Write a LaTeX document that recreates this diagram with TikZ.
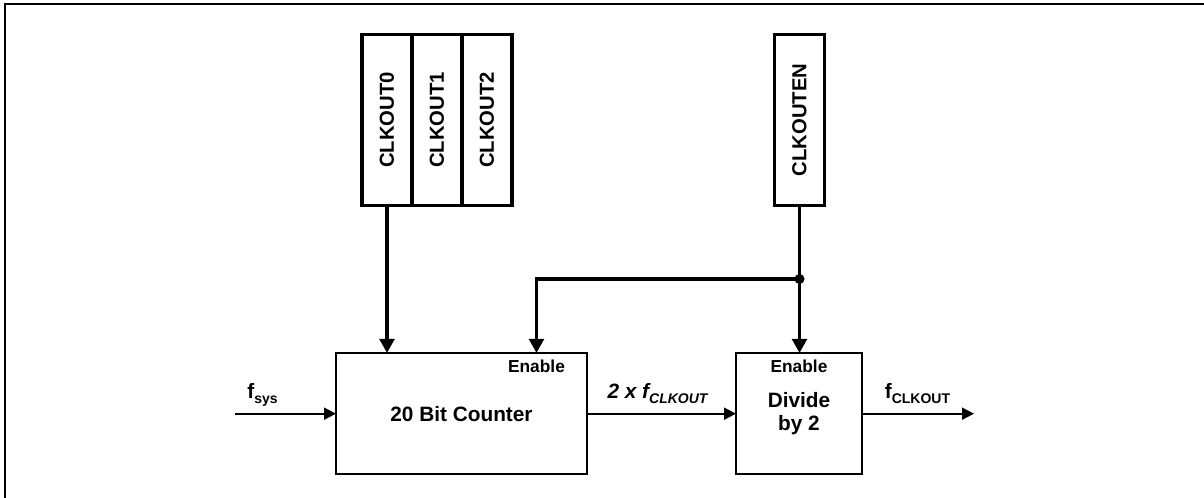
\documentclass[tikz,border=0pt]{standalone}
\usepackage{fontspec}
\setmainfont{Liberation Sans}
\usetikzlibrary{arrows.meta,positioning,calc}

\begin{document}
\begin{tikzpicture}[x=0.75pt,y=-0.75pt,
  blk/.style={draw,line width=1.4pt,inner sep=0pt,outer sep=0pt,align=center,font=\fontsize{15.6}{17.5}\selectfont\bfseries},
  regbox/.style={draw,line width=2.3pt,inner sep=0pt,outer sep=0pt,minimum width=37.5pt,minimum height=128.25pt,font=\fontsize{15.2}{15}\selectfont\bfseries},
  ctl/.style={line width=2.4pt,-{Triangle[length=10.5pt,width=11pt]}},
  sig/.style={line width=1.3pt,-{Triangle[length=9pt,width=9pt]}},
  lbl/.style={anchor=base,inner sep=0pt,font=\fontsize{15.6}{17.5}\selectfont\bfseries},
  enlbl/.style={anchor=base,inner sep=0pt,font=\fontsize{13}{15}\selectfont\bfseries}]
\useasboundingbox (0,0) rectangle (1204,498);
\draw[line width=1.5pt] (5,498) -- (5,4) -- (1204,4);

% blocks
\node[blk,minimum width=188.25pt,minimum height=91.1pt] (cnt) at (461.5,413.7) {20 Bit Counter};
\node[blk,minimum width=94.5pt,minimum height=91.1pt] (dv) at (799,413.7) {Divide\\by 2};

% register bits
\node[regbox] (co0) at (387,120) {\rotatebox{90}{CLKOUT0}};
\node[regbox,right=0pt of co0] (co1) {\rotatebox{90}{CLKOUT1}};
\node[regbox,right=0pt of co1] (co2) {\rotatebox{90}{CLKOUT2}};
\node[regbox] (coen) at (799.5,120) {\rotatebox{90}{CLKOUTEN}};

% labels
\node[enlbl] (cnten) at (536.5,373) {Enable};
\node[enlbl] (dven) at (799,373) {Enable};
\node[lbl] (fsys) at (262.5,399) {f\raisebox{-0.45ex}{\fontsize{10.5}{10}\selectfont sys}};
\node[lbl,font=\fontsize{15.6}{17.5}\selectfont\bfseries\itshape] (f2x) at (657.5,399) {2 x f\raisebox{-0.45ex}{\fontsize{10.5}{10}\selectfont CLKOUT}};
\node[lbl] (fclk) at (917.5,399) {f\raisebox{-0.45ex}{\fontsize{10.5}{10}\selectfont CLKOUT}};
\coordinate (fin) at (235,413.7);
\coordinate (fout) at (974,413.7);
\coordinate (jn) at (coen.south |- 0,279);

% connections
\draw[ctl] (co0.south) -- (cnt.north -| co0.south);
\draw[ctl] (coen.south) -- (dv.north -| coen.south);
\draw[ctl] (jn) -| (cnt.north -| cnten);
\fill (jn) circle (3.8pt);
\draw[sig] (fin) -- (cnt.west);
\draw[sig] (cnt.east) -- (dv.west);
\draw[sig] (dv.east) -- (fout);
\end{tikzpicture}
\end{document}
